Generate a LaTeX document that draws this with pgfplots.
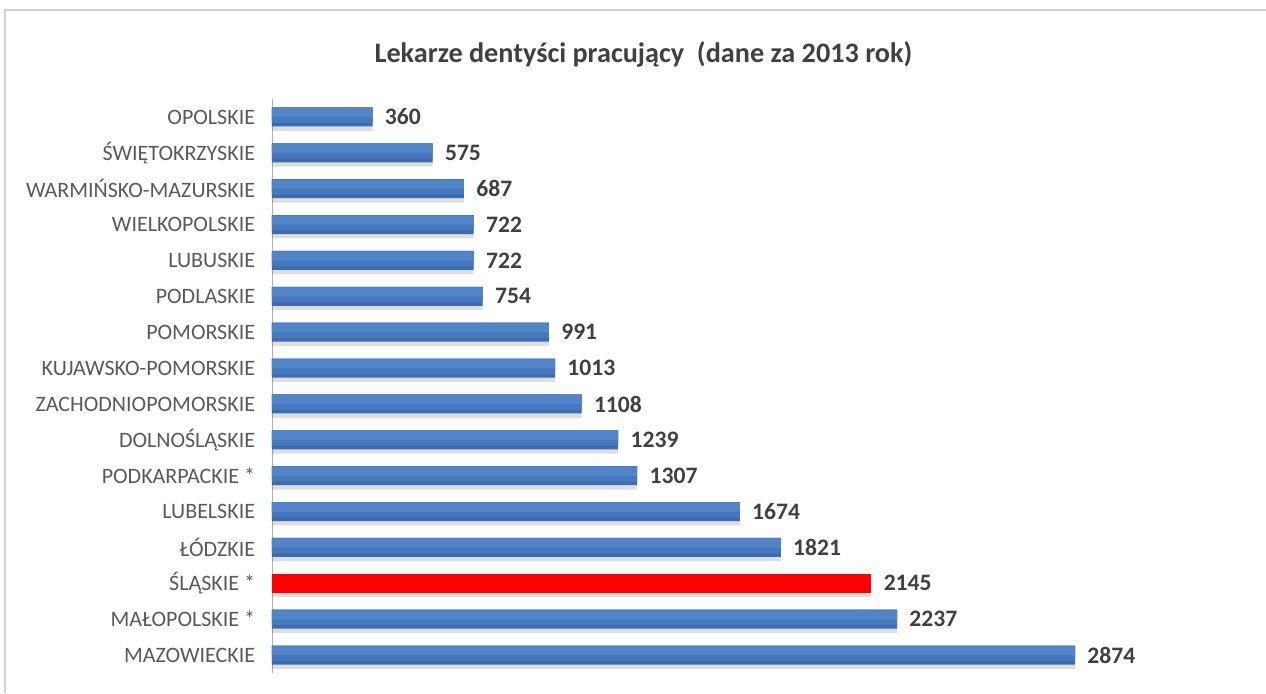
\documentclass[border=0pt]{standalone}
\usepackage{fontspec}
\setmainfont{Carlito}
\usepackage{pgfplots}
\pgfplotsset{compat=1.18}
\definecolor{barA}{HTML}{3B6CB1}
\definecolor{barB}{HTML}{4578BD}
\definecolor{barC}{HTML}{5184C8}
\definecolor{labGray}{HTML}{595959}
\definecolor{valGray}{HTML}{404040}
\pgfplotstableread{
v y
360 0
575 1
687 2
722 3
722 4
754 5
991 6
1013 7
1108 8
1239 9
1307 10
1674 11
1821 12
2237 14
2874 15
}\blue
\pgfplotstableread{
v y
2145 13
}\red
\begin{document}
\begin{tikzpicture}
\path[use as bounding box] (0,0) rectangle (633pt,-346.5pt);
\draw[black!18, line width=1pt] (2.5pt,-346.5pt) -- (2.5pt,-5pt) -- (633pt,-5pt);
\node[font=\bfseries\fontsize{14.1}{16}\selectfont, text=valGray] at (643.5pt/2,-27pt) {Lekarze dentyści pracujący\ \ (dane za 2013 rok)};
\begin{axis}[
  at={(136pt,-336.5pt)}, anchor=south west,
  scale only axis, width=489pt, height=287pt,
  xmin=0, xmax=3500, ymin=-0.5, ymax=15.5, y dir=reverse,
  xbar, bar width=9.5pt,
  hide x axis,
  axis y line*=left,
  y axis line style={black!30},
  ytick={0,...,15},
  yticklabels={OPOLSKIE, ŚWIĘTOKRZYSKIE, WARMIŃSKO-MAZURSKIE, WIELKOPOLSKIE, LUBUSKIE, PODLASKIE, POMORSKIE, KUJAWSKO-POMORSKIE, ZACHODNIOPOMORSKIE, DOLNOŚLĄSKIE, PODKARPACKIE *, LUBELSKIE, ŁÓDZKIE, ŚLĄSKIE *, MAŁOPOLSKIE *, MAZOWIECKIE},
  ytick style={draw=none},
  yticklabel style={font=\fontsize{11}{12}\selectfont, text=labGray, inner sep=0pt, xshift=-4pt},
  /pgf/number format/1000 sep={},
  /pgf/number format/assume math mode=true,
  nodes near coords style={font=\bfseries\fontsize{11.8}{12}\selectfont, text=valGray, anchor=west, inner sep=0pt, xshift=6pt},
  clip=false,
]
% shadows
\addplot[draw=none, fill=black, fill opacity=0.13, bar shift=-2.2pt, forget plot] table[x=v,y=y] {\blue};
\addplot[draw=none, fill=black, fill opacity=0.13, bar shift=-2.2pt, forget plot] table[x=v,y=y] {\red};
% blue bars (three bands for a vertical gradient)
\addplot[draw=none, fill=barA, bar shift=0pt, nodes near coords, point meta=x] table[x=v,y=y] {\blue};
\addplot[draw=none, fill=barB, bar shift=0.9pt, bar width=7.7pt, forget plot] table[x=v,y=y] {\blue};
\addplot[draw=none, fill=barC, bar shift=2.2pt, bar width=4.5pt, forget plot] table[x=v,y=y] {\blue};
% red bar
\addplot[draw=none, fill=red, bar shift=0pt, nodes near coords, point meta=x] table[x=v,y=y] {\red};
\end{axis}
\end{tikzpicture}
\end{document}
